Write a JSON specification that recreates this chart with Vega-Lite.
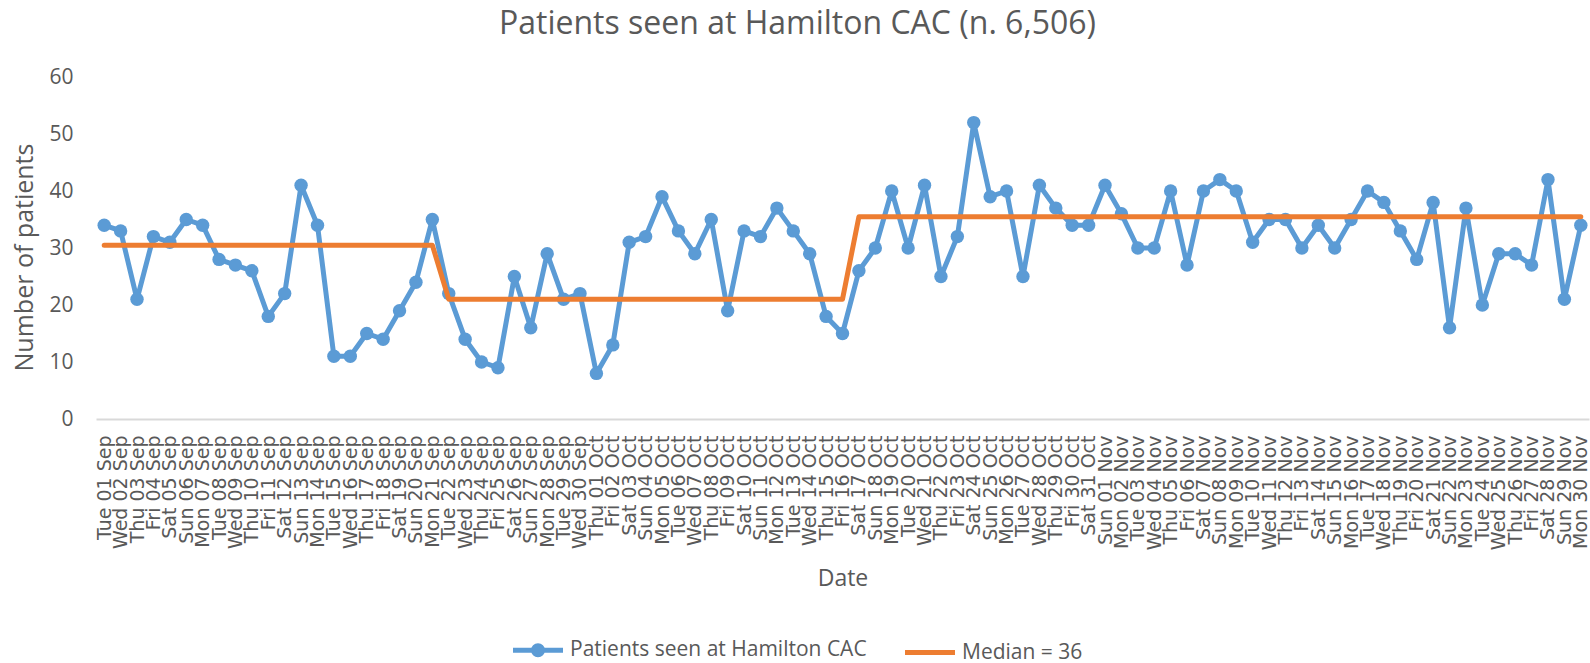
{
  "$schema": "https://vega.github.io/schema/vega-lite/v6.json",
  "width": 1493,
  "height": 342,
  "autosize": {"type": "none"},
  "padding": {"left": 96, "top": 77, "right": 1, "bottom": 244},
  "title": {
    "text": "Patients seen at Hamilton CAC (n. 6,506)",
    "fontSize": 32,
    "font": "Open Sans",
    "fontWeight": "normal",
    "color": "#595959",
    "anchor": "middle",
    "dx": -45,
    "offset": 25
  },
  "data": {
    "values": [
      {"date": "Tue 01 Sep", "patients": 34, "median": 30.5},
      {"date": "Wed 02 Sep", "patients": 33, "median": 30.5},
      {"date": "Thu 03 Sep", "patients": 21, "median": 30.5},
      {"date": "Fri 04 Sep", "patients": 32, "median": 30.5},
      {"date": "Sat 05 Sep", "patients": 31, "median": 30.5},
      {"date": "Sun 06 Sep", "patients": 35, "median": 30.5},
      {"date": "Mon 07 Sep", "patients": 34, "median": 30.5},
      {"date": "Tue 08 Sep", "patients": 28, "median": 30.5},
      {"date": "Wed 09 Sep", "patients": 27, "median": 30.5},
      {"date": "Thu 10 Sep", "patients": 26, "median": 30.5},
      {"date": "Fri 11 Sep", "patients": 18, "median": 30.5},
      {"date": "Sat 12 Sep", "patients": 22, "median": 30.5},
      {"date": "Sun 13 Sep", "patients": 41, "median": 30.5},
      {"date": "Mon 14 Sep", "patients": 34, "median": 30.5},
      {"date": "Tue 15 Sep", "patients": 11, "median": 30.5},
      {"date": "Wed 16 Sep", "patients": 11, "median": 30.5},
      {"date": "Thu 17 Sep", "patients": 15, "median": 30.5},
      {"date": "Fri 18 Sep", "patients": 14, "median": 30.5},
      {"date": "Sat 19 Sep", "patients": 19, "median": 30.5},
      {"date": "Sun 20 Sep", "patients": 24, "median": 30.5},
      {"date": "Mon 21 Sep", "patients": 35, "median": 30.5},
      {"date": "Tue 22 Sep", "patients": 22, "median": 21},
      {"date": "Wed 23 Sep", "patients": 14, "median": 21},
      {"date": "Thu 24 Sep", "patients": 10, "median": 21},
      {"date": "Fri 25 Sep", "patients": 9, "median": 21},
      {"date": "Sat 26 Sep", "patients": 25, "median": 21},
      {"date": "Sun 27 Sep", "patients": 16, "median": 21},
      {"date": "Mon 28 Sep", "patients": 29, "median": 21},
      {"date": "Tue 29 Sep", "patients": 21, "median": 21},
      {"date": "Wed 30 Sep", "patients": 22, "median": 21},
      {"date": "Thu 01 Oct", "patients": 8, "median": 21},
      {"date": "Fri 02 Oct", "patients": 13, "median": 21},
      {"date": "Sat 03 Oct", "patients": 31, "median": 21},
      {"date": "Sun 04 Oct", "patients": 32, "median": 21},
      {"date": "Mon 05 Oct", "patients": 39, "median": 21},
      {"date": "Tue 06 Oct", "patients": 33, "median": 21},
      {"date": "Wed 07 Oct", "patients": 29, "median": 21},
      {"date": "Thu 08 Oct", "patients": 35, "median": 21},
      {"date": "Fri 09 Oct", "patients": 19, "median": 21},
      {"date": "Sat 10 Oct", "patients": 33, "median": 21},
      {"date": "Sun 11 Oct", "patients": 32, "median": 21},
      {"date": "Mon 12 Oct", "patients": 37, "median": 21},
      {"date": "Tue 13 Oct", "patients": 33, "median": 21},
      {"date": "Wed 14 Oct", "patients": 29, "median": 21},
      {"date": "Thu 15 Oct", "patients": 18, "median": 21},
      {"date": "Fri 16 Oct", "patients": 15, "median": 21},
      {"date": "Sat 17 Oct", "patients": 26, "median": 35.5},
      {"date": "Sun 18 Oct", "patients": 30, "median": 35.5},
      {"date": "Mon 19 Oct", "patients": 40, "median": 35.5},
      {"date": "Tue 20 Oct", "patients": 30, "median": 35.5},
      {"date": "Wed 21 Oct", "patients": 41, "median": 35.5},
      {"date": "Thu 22 Oct", "patients": 25, "median": 35.5},
      {"date": "Fri 23 Oct", "patients": 32, "median": 35.5},
      {"date": "Sat 24 Oct", "patients": 52, "median": 35.5},
      {"date": "Sun 25 Oct", "patients": 39, "median": 35.5},
      {"date": "Mon 26 Oct", "patients": 40, "median": 35.5},
      {"date": "Tue 27 Oct", "patients": 25, "median": 35.5},
      {"date": "Wed 28 Oct", "patients": 41, "median": 35.5},
      {"date": "Thu 29 Oct", "patients": 37, "median": 35.5},
      {"date": "Fri 30 Oct", "patients": 34, "median": 35.5},
      {"date": "Sat 31 Oct", "patients": 34, "median": 35.5},
      {"date": "Sun 01 Nov", "patients": 41, "median": 35.5},
      {"date": "Mon 02 Nov", "patients": 36, "median": 35.5},
      {"date": "Tue 03 Nov", "patients": 30, "median": 35.5},
      {"date": "Wed 04 Nov", "patients": 30, "median": 35.5},
      {"date": "Thu 05 Nov", "patients": 40, "median": 35.5},
      {"date": "Fri 06 Nov", "patients": 27, "median": 35.5},
      {"date": "Sat 07 Nov", "patients": 40, "median": 35.5},
      {"date": "Sun 08 Nov", "patients": 42, "median": 35.5},
      {"date": "Mon 09 Nov", "patients": 40, "median": 35.5},
      {"date": "Tue 10 Nov", "patients": 31, "median": 35.5},
      {"date": "Wed 11 Nov", "patients": 35, "median": 35.5},
      {"date": "Thu 12 Nov", "patients": 35, "median": 35.5},
      {"date": "Fri 13 Nov", "patients": 30, "median": 35.5},
      {"date": "Sat 14 Nov", "patients": 34, "median": 35.5},
      {"date": "Sun 15 Nov", "patients": 30, "median": 35.5},
      {"date": "Mon 16 Nov", "patients": 35, "median": 35.5},
      {"date": "Tue 17 Nov", "patients": 40, "median": 35.5},
      {"date": "Wed 18 Nov", "patients": 38, "median": 35.5},
      {"date": "Thu 19 Nov", "patients": 33, "median": 35.5},
      {"date": "Fri 20 Nov", "patients": 28, "median": 35.5},
      {"date": "Sat 21 Nov", "patients": 38, "median": 35.5},
      {"date": "Sun 22 Nov", "patients": 16, "median": 35.5},
      {"date": "Mon 23 Nov", "patients": 37, "median": 35.5},
      {"date": "Tue 24 Nov", "patients": 20, "median": 35.5},
      {"date": "Wed 25 Nov", "patients": 29, "median": 35.5},
      {"date": "Thu 26 Nov", "patients": 29, "median": 35.5},
      {"date": "Fri 27 Nov", "patients": 27, "median": 35.5},
      {"date": "Sat 28 Nov", "patients": 42, "median": 35.5},
      {"date": "Sun 29 Nov", "patients": 21, "median": 35.5},
      {"date": "Mon 30 Nov", "patients": 34, "median": 35.5}
    ]
  },
  "encoding": {
    "x": {
      "field": "date",
      "type": "ordinal",
      "sort": null,
      "scale": {"type": "point", "padding": 0.5},
      "axis": {
        "title": "Date",
        "labelAngle": -90,
        "labelPadding": 16,
        "labelOverlap": false,
        "labelFontSize": 19,
        "labelColor": "#595959",
        "labelFont": "DejaVu Sans",
        "ticks": false,
        "tickSize": 0,
        "domain": true,
        "domainColor": "#D9D9D9",
        "domainWidth": 2,
        "grid": false,
        "titleFontSize": 23,
        "titleFont": "Open Sans",
        "titleFontWeight": "normal",
        "titleColor": "#595959",
        "titlePadding": 18
      }
    }
  },
  "layer": [
    {
      "mark": {"type": "line", "strokeWidth": 5, "strokeJoin": "round", "strokeCap": "round"},
      "encoding": {
        "y": {
          "field": "patients",
          "type": "quantitative",
          "scale": {"domain": [0, 60]},
          "axis": {
            "title": "Number of patients",
            "values": [0, 10, 20, 30, 40, 50, 60],
            "labelFontSize": 21,
            "labelColor": "#595959",
            "labelFont": "Open Sans",
            "labelPadding": 23,
            "ticks": false,
            "tickSize": 0,
            "domain": false,
            "grid": false,
            "titleFontSize": 25,
            "titleFont": "Open Sans",
            "titleFontWeight": "normal",
            "titleColor": "#595959",
            "titlePadding": 11,
            "titleY": 180
          }
        },
        "color": {
          "datum": "Patients seen at Hamilton CAC",
          "scale": {
            "domain": ["Patients seen at Hamilton CAC", "Median = 36"],
            "range": ["#5B9BD5", "#ED7D31"]
          },
          "legend": {
            "title": null,
            "orient": "none",
            "direction": "horizontal",
            "columns": 2,
            "legendX": 427,
            "legendY": 558,
            "symbolSize": 625,
            "symbolStrokeWidth": 5,
            "labelFontSize": 21,
            "labelFont": "Open Sans",
            "labelColor": "#595959",
            "labelLimit": 600,
            "labelOffset": 17,
            "columnPadding": 28,
            "encode": {
              "symbols": {
                "update": {
                  "shape": [
                    {"test": "datum.value === 'Patients seen at Hamilton CAC'", "value": "M-2,0L2,0M-0.36,0A0.36,0.36,0,1,0,0.36,0A0.36,0.36,0,1,0,-0.36,0Z"},
                    {"value": "M-2,0L2,0"}
                  ],
                  "fill": [
                    {"test": "datum.value === 'Patients seen at Hamilton CAC'", "value": "#5B9BD5"},
                    {"value": "transparent"}
                  ],
                  "stroke": {"scale": "color", "field": "value"},
                  "strokeWidth": {"value": 5}
                }
              }
            }
          }
        }
      }
    },
    {
      "mark": {"type": "point", "filled": true, "size": 180, "opacity": 1},
      "encoding": {
        "y": {"field": "patients", "type": "quantitative"},
        "color": {"datum": "Patients seen at Hamilton CAC"}
      }
    },
    {
      "mark": {"type": "line", "strokeWidth": 5, "strokeJoin": "round", "strokeCap": "round"},
      "encoding": {
        "y": {"field": "median", "type": "quantitative"},
        "color": {"datum": "Median = 36"}
      }
    }
  ],
  "config": {
    "view": {"stroke": null},
    "font": "Open Sans"
  }
}
